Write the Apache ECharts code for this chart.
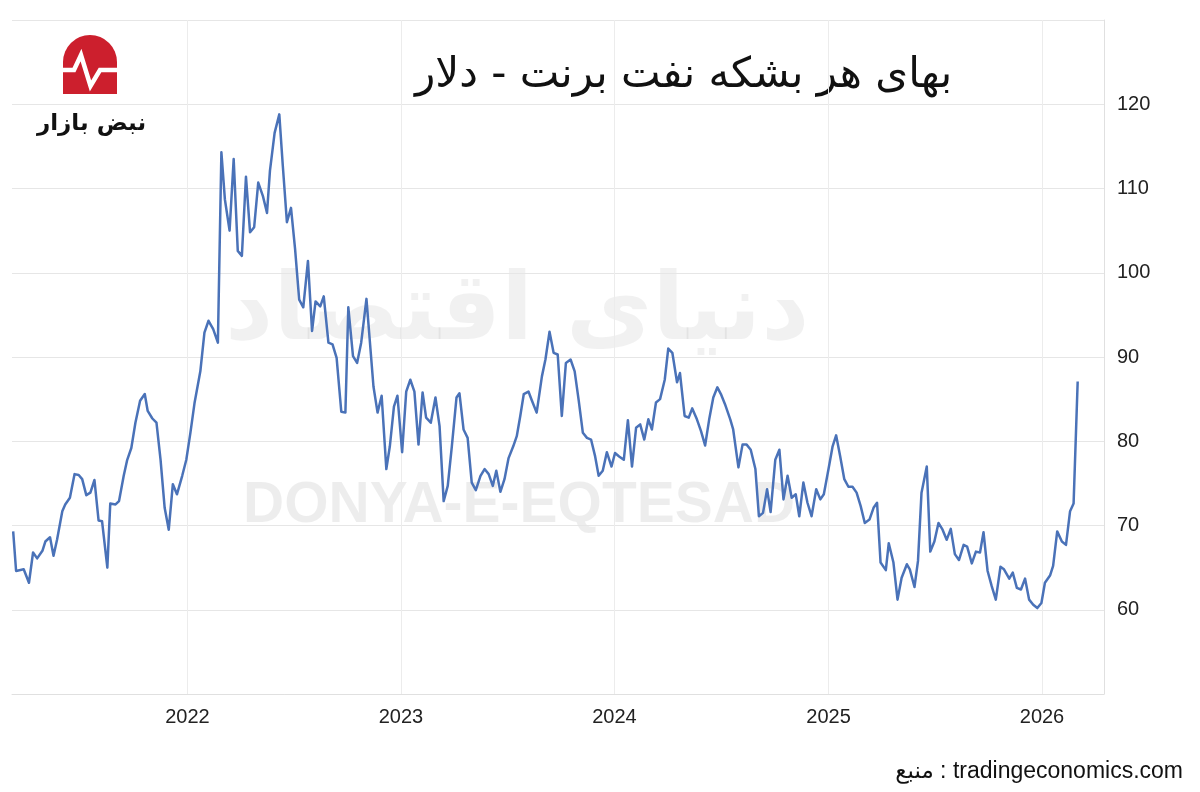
<!DOCTYPE html>
<html><head><meta charset="utf-8">
<script src="https://cdn.jsdelivr.net/npm/echarts@6/dist/echarts.min.js"></script>
<style>html,body{margin:0;padding:0;background:#fff}#c{width:1200px;height:792px}</style>
</head><body><div id="c"></div>
<script>
const chartTitle = 'بهای هر بشکه نفت برنت - دلار';
const sourceText = 'منبع : tradingeconomics.com';
const brandName = 'نبض بازار';
const watermarkLatin = 'DONYA-E-EQTESAD';
const watermarkPersian = 'دنیای اقتصاد';
const yLabelValues = [60, 70, 80, 90, 100, 110, 120];
const yearLines = ['2022-01-01', '2023-01-01', '2024-01-01', '2025-01-01', '2026-01-01'];

const dates2021 = ['2021-03-09','2021-03-14','2021-03-27','2021-04-05','2021-04-12','2021-04-19','2021-04-28','2021-05-03','2021-05-11','2021-05-17','2021-05-23','2021-06-01','2021-06-06','2021-06-14','2021-06-22','2021-06-29','2021-07-05','2021-07-12','2021-07-19','2021-07-26','2021-08-02','2021-08-08','2021-08-17','2021-08-22','2021-08-31','2021-09-06','2021-09-14','2021-09-20','2021-09-27','2021-10-04','2021-10-12','2021-10-20','2021-10-25','2021-11-02','2021-11-09','2021-11-16','2021-11-23','2021-11-30','2021-12-07','2021-12-14','2021-12-23','2021-12-30'];
const prices2021 = [69.3,64.6,64.8,63.2,66.8,66.1,67.0,68.1,68.6,66.4,68.3,71.7,72.5,73.3,76.1,76.0,75.5,73.6,73.9,75.4,70.6,70.5,65.0,72.6,72.5,72.9,75.9,77.8,79.2,82.2,84.8,85.6,83.6,82.7,82.2,77.8,72.1,69.5,74.9,73.7,75.9,77.8];

const dates2022 = ['2022-01-06','2022-01-13','2022-01-23','2022-01-30','2022-02-06','2022-02-14','2022-02-22','2022-02-28','2022-03-06','2022-03-14','2022-03-21','2022-03-28','2022-04-04','2022-04-11','2022-04-18','2022-04-25','2022-05-02','2022-05-10','2022-05-17','2022-05-22','2022-05-30','2022-06-07','2022-06-13','2022-06-20','2022-06-27','2022-07-04','2022-07-11','2022-07-18','2022-07-26','2022-08-02','2022-08-08','2022-08-16','2022-08-22','2022-08-30','2022-09-06','2022-09-13','2022-09-21','2022-09-28','2022-10-03','2022-10-11','2022-10-18','2022-10-25','2022-11-03','2022-11-15','2022-11-22','2022-11-29','2022-12-07','2022-12-13','2022-12-20','2022-12-26'];
const prices2022 = [81.0,84.5,88.3,92.9,94.3,93.3,91.7,114.3,108.7,105.0,113.5,102.6,102.0,111.4,104.8,105.4,110.7,109.1,107.1,112.1,116.6,118.8,112.7,106.0,107.7,102.8,96.8,95.9,101.4,93.1,96.6,96.0,97.2,91.7,91.5,89.9,83.5,83.4,95.9,90.1,89.3,91.7,96.9,86.5,83.4,85.4,76.7,79.4,84.1,85.4];

const dates2023 = ['2023-01-03','2023-01-10','2023-01-17','2023-01-24','2023-01-31','2023-02-07','2023-02-13','2023-02-21','2023-03-01','2023-03-08','2023-03-15','2023-03-22','2023-03-29','2023-04-06','2023-04-11','2023-04-18','2023-04-25','2023-05-02','2023-05-09','2023-05-17','2023-05-24','2023-05-31','2023-06-07','2023-06-13','2023-06-20','2023-06-27','2023-07-04','2023-07-12','2023-07-18','2023-07-24','2023-07-30','2023-08-07','2023-08-13','2023-08-21','2023-08-30','2023-09-05','2023-09-12','2023-09-19','2023-09-26','2023-10-03','2023-10-10','2023-10-18','2023-10-25','2023-11-01','2023-11-08','2023-11-15','2023-11-22','2023-11-29','2023-12-05','2023-12-12','2023-12-19','2023-12-27'];
const prices2023 = [78.7,85.9,87.3,85.9,79.6,85.8,82.8,82.2,85.2,81.8,72.9,74.7,79.4,85.2,85.7,81.4,80.4,75.1,74.2,75.9,76.7,76.1,74.7,76.5,74.0,75.5,78.0,79.4,80.6,83.0,85.6,85.9,84.8,83.4,87.7,89.7,93.0,90.5,90.3,83.0,89.3,89.7,88.3,84.8,81.0,80.4,80.2,78.2,75.9,76.5,78.7,77.0];

const dates2024 = ['2024-01-02','2024-01-09','2024-01-17','2024-01-24','2024-01-31','2024-02-07','2024-02-14','2024-02-21','2024-02-28','2024-03-05','2024-03-12','2024-03-19','2024-03-27','2024-04-02','2024-04-09','2024-04-17','2024-04-22','2024-04-30','2024-05-07','2024-05-13','2024-05-21','2024-05-28','2024-06-04','2024-06-11','2024-06-18','2024-06-25','2024-07-01','2024-07-08','2024-07-17','2024-07-22','2024-07-31','2024-08-07','2024-08-14','2024-08-21','2024-08-29','2024-09-04','2024-09-11','2024-09-18','2024-09-24','2024-10-02','2024-10-09','2024-10-16','2024-10-23','2024-10-30','2024-11-06','2024-11-12','2024-11-19','2024-11-26','2024-12-03','2024-12-11','2024-12-18','2024-12-24'];
const prices2024 = [78.6,78.2,77.8,82.5,77.0,81.6,82.0,80.2,82.6,81.4,84.6,85.0,87.3,91.0,90.5,87.0,88.1,83.0,82.8,83.9,82.6,81.2,79.5,82.6,85.2,86.4,85.6,84.4,82.6,81.4,76.9,79.6,79.6,79.0,76.7,71.1,71.5,74.3,71.6,77.8,79.0,73.1,75.9,73.3,73.7,71.1,75.1,72.7,71.1,74.3,73.1,73.7];

const dates2025 = ['2025-01-01','2025-01-08','2025-01-14','2025-01-21','2025-01-28','2025-02-04','2025-02-11','2025-02-18','2025-02-25','2025-03-04','2025-03-12','2025-03-19','2025-03-25','2025-03-31','2025-04-09','2025-04-14','2025-04-22','2025-04-29','2025-05-06','2025-05-15','2025-05-20','2025-05-28','2025-06-03','2025-06-09','2025-06-18','2025-06-24','2025-07-01','2025-07-08','2025-07-15','2025-07-22','2025-07-29','2025-08-05','2025-08-12','2025-08-20','2025-08-26','2025-09-03','2025-09-10','2025-09-17','2025-09-23','2025-09-30','2025-10-07','2025-10-14','2025-10-22','2025-10-28','2025-11-06','2025-11-12','2025-11-19','2025-11-26','2025-12-03','2025-12-10','2025-12-17','2025-12-24','2025-12-31'];
const prices2025 = [76.7,79.4,80.7,78.2,75.5,74.6,74.6,73.9,72.3,70.3,70.7,72.1,72.7,65.6,64.7,67.9,65.6,61.2,63.8,65.4,64.8,62.7,65.8,73.9,77.0,66.9,68.1,70.3,69.5,68.3,69.6,66.6,65.9,67.7,67.5,65.5,66.9,66.8,69.2,64.6,62.8,61.2,65.1,64.8,63.7,64.4,62.6,62.4,63.7,61.2,60.6,60.2,60.8];

const dates2026 = ['2026-01-06','2026-01-15','2026-01-20','2026-01-27','2026-02-04','2026-02-11','2026-02-18','2026-02-24','2026-03-03'];
const prices2026 = [63.2,64.1,65.2,69.3,68.1,67.7,71.7,72.6,87.1];

const allDates = [].concat(dates2021, dates2022, dates2023, dates2024, dates2025, dates2026);
const allPrices = [].concat(prices2021, prices2022, prices2023, prices2024, prices2025, prices2026);
const seriesData = allDates.map((d, i) => [d, allPrices[i]]);

const chart = echarts.init(document.getElementById('c'), null, {renderer: 'canvas'});
const YEAR = 365.25 * 24 * 3600 * 1000;
chart.setOption({
  animation: false,
  backgroundColor: '#ffffff',
  grid: {left: 12, right: 96, top: 20, bottom: 98, containLabel: false},
  xAxis: {
    type: 'time',
    min: '2021-03-07',
    max: '2026-04-17',
    minInterval: YEAR * 0.99,
    maxInterval: YEAR * 1.01,
    axisLine: {show: true, lineStyle: {color: '#e0e0e0', width: 1}},
    axisTick: {show: false},
    splitLine: {show: false},
    axisLabel: {
      formatter: '{yyyy}',
      color: '#222',
      fontSize: 20,
      fontFamily: 'Liberation Sans, Arial, sans-serif',
      margin: 13
    }
  },
  yAxis: {
    type: 'value',
    position: 'right',
    min: 50,
    max: 130,
    interval: 10,
    axisLine: {show: true, lineStyle: {color: '#e0e0e0', width: 1}},
    axisTick: {show: false},
    splitLine: {show: true, lineStyle: {color: '#e6e6e6', width: 1}},
    axisLabel: {
      color: '#222',
      fontSize: 20,
      fontFamily: 'Liberation Sans, Arial, sans-serif',
      margin: 13,
      formatter: v => (yLabelValues.indexOf(v) >= 0 ? String(v) : '')
    }
  },
  graphic: [
    {type: 'text', z: 0, silent: true, left: 225, top: 268,
      style: {text: watermarkPersian, fill: 'rgba(0,0,0,0.055)', font: 'bold 94px "DejaVu Sans"'}},
    {type: 'text', z: 0, silent: true, left: 243, top: 478,
      style: {text: watermarkLatin, fill: 'rgba(0,0,0,0.07)', font: 'bold 57px "Liberation Sans", Arial, sans-serif'}},
    {type: 'text', silent: true, left: 415, top: 55,
      style: {text: chartTitle, fill: '#111', font: '42px "DejaVu Sans", sans-serif'}},
    {type: 'rect', silent: true, shape: {x: 63, y: 35, width: 54, height: 59, r: [27, 27, 0, 0]},
      style: {fill: '#cc1f2d'}},
    {type: 'polyline', silent: true, shape: {points: [[62, 70], [74, 70], [81, 55], [90.5, 86], [100, 70], [118, 70]]},
      style: {stroke: '#ffffff', lineWidth: 4.5, fill: null, lineJoin: 'miter'}},
    {type: 'text', silent: true, left: 37, top: 113,
      style: {text: brandName, fill: '#111', font: 'bold 23px "DejaVu Sans", sans-serif'}},
    {type: 'text', silent: true, right: 17, top: 760,
      style: {text: sourceText, fill: '#111', font: '23px "Liberation Sans", "DejaVu Sans", sans-serif'}}
  ],
  series: [
    {
      type: 'line',
      data: [],
      z: 1,
      silent: true,
      markLine: {
        silent: true,
        symbol: ['none', 'none'],
        label: {show: false},
        lineStyle: {color: '#ececec', width: 1, type: 'solid'},
        emphasis: {disabled: true},
        data: yearLines.map(d => ({xAxis: d}))
      }
    },
    {
      type: 'line',
      data: seriesData,
      showSymbol: false,
      symbol: 'none',
      z: 5,
      lineStyle: {color: '#4a72b8', width: 2.5, join: 'round'}
    }
  ]
});
</script></body></html>
